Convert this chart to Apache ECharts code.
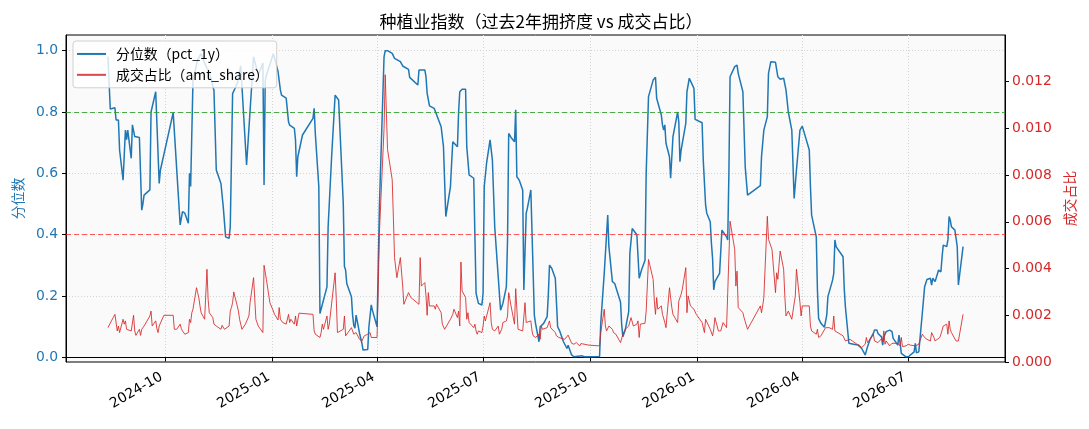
<!DOCTYPE html>
<html>
<head>
<meta charset="utf-8">
<script src="https://cdn.jsdelivr.net/npm/echarts@6/dist/echarts.min.js"></script>
<style>
html,body{margin:0;padding:0;background:#fff;}
#chart{width:1089px;height:429px;}
</style>
</head>
<body>
<div id="chart"></div>
<script>
// ---- data ----
const titleText = '种植业指数（过去2年拥挤度 vs 成交占比）';
const pctName = '分位数（pct_1y）';
const amtName = '成交占比（amt_share）';
const xMin = '2024-07-08';
const xMax = '2026-09-22';
const xTickDates = ['2024-10-01','2025-01-01','2025-04-01','2025-07-01','2025-10-01','2026-01-01','2026-04-01','2026-07-01'];
const leftTicks = [0, 0.2, 0.4, 0.6, 0.8, 1.0];
const rightTicks = [0, 0.002, 0.004, 0.006, 0.008, 0.010, 0.012];
const highLine = 0.8;
const lowLine = 0.4;

const pctDates = ['2024-08-13','2024-08-15','2024-08-19','2024-08-20','2024-08-22','2024-08-23','2024-08-26','2024-08-28','2024-08-29','2024-08-30',
'2024-09-02','2024-09-03','2024-09-05','2024-09-09','2024-09-11','2024-09-12','2024-09-13','2024-09-18','2024-09-19','2024-09-23','2024-09-26','2024-09-27',
'2024-10-08','2024-10-14','2024-10-16','2024-10-18','2024-10-21','2024-10-22','2024-10-23','2024-10-25','2024-10-29','2024-11-01','2024-11-05','2024-11-08',
'2024-11-12','2024-11-14','2024-11-18','2024-11-19','2024-11-20','2024-11-22','2024-11-25','2024-11-26','2024-11-28','2024-12-02','2024-12-05','2024-12-10',
'2024-12-16','2024-12-18','2024-12-20','2024-12-24','2024-12-25','2024-12-26','2024-12-27','2025-01-02','2025-01-03','2025-01-06','2025-01-08','2025-01-09',
'2025-01-13','2025-01-15','2025-01-16','2025-01-20','2025-01-21','2025-01-22','2025-01-23','2025-01-24','2025-01-27','2025-02-05','2025-02-06','2025-02-07',
'2025-02-10','2025-02-11','2025-02-12','2025-02-17','2025-02-18','2025-02-21','2025-02-24','2025-02-25','2025-02-27','2025-03-03','2025-03-04','2025-03-05',
'2025-03-06','2025-03-10','2025-03-11','2025-03-12','2025-03-13','2025-03-14','2025-03-17','2025-03-19','2025-03-20','2025-03-24','2025-03-25','2025-03-27',
'2025-03-28','2025-04-01','2025-04-03','2025-04-07','2025-04-08','2025-04-10','2025-04-14','2025-04-16','2025-04-21','2025-04-23','2025-04-28','2025-04-29',
'2025-05-06','2025-05-07','2025-05-12','2025-05-13','2025-05-14','2025-05-16','2025-05-20','2025-05-21','2025-05-26','2025-05-28','2025-05-30','2025-06-03',
'2025-06-04','2025-06-05','2025-06-09','2025-06-10','2025-06-11','2025-06-13','2025-06-16','2025-06-17','2025-06-19','2025-06-23','2025-06-24','2025-06-25',
'2025-06-27','2025-06-30','2025-07-01','2025-07-02','2025-07-04','2025-07-07','2025-07-09','2025-07-11','2025-07-14','2025-07-16','2025-07-18','2025-07-21',
'2025-07-22','2025-07-23','2025-07-25','2025-07-28','2025-07-29','2025-07-30','2025-08-01','2025-08-04','2025-08-05','2025-08-07','2025-08-08','2025-08-11',
'2025-08-12','2025-08-14','2025-08-15','2025-08-18','2025-08-19','2025-08-22','2025-08-25','2025-08-26','2025-08-27','2025-08-29','2025-09-01','2025-09-03',
'2025-09-05','2025-09-08','2025-09-11','2025-09-12','2025-09-15','2025-09-17','2025-09-24','2025-09-26','2025-09-30','2025-10-09','2025-10-10','2025-10-13',
'2025-10-16','2025-10-17','2025-10-20','2025-10-22','2025-10-27','2025-10-28','2025-10-29','2025-10-31','2025-11-03','2025-11-04','2025-11-06','2025-11-07',
'2025-11-10','2025-11-12','2025-11-14','2025-11-17','2025-11-18','2025-11-20','2025-11-24','2025-11-26','2025-11-27','2025-12-01','2025-12-02','2025-12-03',
'2025-12-04','2025-12-05','2025-12-08','2025-12-09','2025-12-11','2025-12-15','2025-12-16','2025-12-17','2025-12-18','2025-12-22','2025-12-23','2025-12-25',
'2025-12-29','2025-12-30','2026-01-05','2026-01-06','2026-01-08','2026-01-09','2026-01-12','2026-01-13','2026-01-14','2026-01-15','2026-01-16','2026-01-20',
'2026-01-22','2026-01-23','2026-01-26','2026-01-27','2026-01-28','2026-01-29','2026-02-02','2026-02-04','2026-02-05','2026-02-09','2026-02-11','2026-02-13',
'2026-02-24','2026-02-25','2026-02-27','2026-03-02','2026-03-03','2026-03-05','2026-03-09','2026-03-11','2026-03-13','2026-03-16','2026-03-17','2026-03-18',
'2026-03-20','2026-03-23','2026-03-25','2026-03-27','2026-03-30','2026-04-01','2026-04-02','2026-04-07','2026-04-08','2026-04-09','2026-04-13','2026-04-14',
'2026-04-15','2026-04-17','2026-04-20','2026-04-22','2026-04-23','2026-04-27','2026-04-28','2026-04-29','2026-04-30','2026-05-06','2026-05-07','2026-05-08',
'2026-05-11','2026-05-12','2026-05-15','2026-05-19','2026-05-22','2026-05-25','2026-05-27','2026-05-29','2026-06-01','2026-06-02','2026-06-04','2026-06-05',
'2026-06-08','2026-06-09','2026-06-10','2026-06-12','2026-06-15','2026-06-17','2026-06-18','2026-06-22','2026-06-23','2026-06-24','2026-06-25','2026-06-29',
'2026-07-01','2026-07-02','2026-07-06','2026-07-07','2026-07-08','2026-07-10','2026-07-13','2026-07-15','2026-07-17','2026-07-20','2026-07-21','2026-07-22',
'2026-07-23','2026-07-24','2026-07-27','2026-07-28','2026-07-29','2026-07-30','2026-07-31','2026-08-03','2026-08-04','2026-08-05','2026-08-06','2026-08-07',
'2026-08-10','2026-08-11','2026-08-12','2026-08-13','2026-08-17'];
const pctValues = [0.98,0.81,0.814,0.774,0.774,0.676,0.578,0.741,0.71,0.741,
0.649,0.758,0.72,0.717,0.48,0.50,0.529,0.546,0.80,0.866,0.567,0.61,
0.798,0.432,0.475,0.47,0.437,0.60,0.557,0.904,0.97,0.99,0.95,0.93,
0.87,0.611,0.567,0.573,0.49,0.393,0.388,0.426,0.86,0.893,0.95,0.627,
0.98,0.95,0.92,0.96,0.562,0.90,0.92,0.99,0.975,0.932,0.872,0.855,
0.845,0.768,0.757,0.747,0.709,0.589,0.654,0.654,0.725,0.779,0.812,0.73,
0.557,0.143,0.138,0.23,0.426,0.654,0.855,0.861,0.839,0.502,0.296,0.285,
0.241,0.198,0.138,0.105,0.095,0.138,0.078,0.046,0.024,0.026,0.10,0.171,
0.154,0.10,0.49,0.98,1.0,1.0,0.991,0.975,0.964,0.95,0.939,0.913,
0.888,0.937,0.937,0.915,0.861,0.82,0.812,0.807,0.752,0.687,0.459,0.557,
0.633,0.703,0.687,0.80,0.866,0.874,0.874,0.687,0.595,0.584,0.393,0.209,
0.176,0.171,0.209,0.557,0.633,0.709,0.643,0.426,0.263,0.154,0.176,0.23,
0.383,0.73,0.717,0.703,0.807,0.589,0.578,0.546,0.22,0.47,0.486,0.546,
0.546,0.138,0.111,0.051,0.10,0.111,0.133,0.203,0.301,0.29,0.258,0.10,
0.084,0.051,0.029,0.04,0.008,0.002,0.005,0.002,0.002,0.003,0.111,0.274,
0.464,0.361,0.247,0.241,0.18,0.105,0.067,0.089,0.149,0.339,0.42,0.415,
0.40,0.258,0.285,0.317,0.60,0.85,0.904,0.913,0.845,0.79,0.758,0.741,
0.758,0.698,0.654,0.584,0.72,0.80,0.768,0.638,0.676,0.763,0.866,0.91,
0.877,0.776,0.765,0.643,0.497,0.47,0.442,0.372,0.323,0.22,0.247,0.274,
0.415,0.41,0.393,0.383,0.60,0.915,0.948,0.953,0.926,0.866,0.622,0.529,
0.56,0.654,0.741,0.785,0.926,0.964,0.962,0.915,0.907,0.91,0.904,0.872,
0.80,0.741,0.518,0.611,0.741,0.754,0.754,0.676,0.557,0.464,0.393,0.22,
0.127,0.111,0.098,0.138,0.198,0.252,0.274,0.383,0.361,0.328,0.225,0.165,
0.046,0.043,0.043,0.04,0.029,0.008,0.035,0.057,0.078,0.089,0.089,0.078,
0.067,0.04,0.067,0.084,0.089,0.084,0.062,0.04,0.073,0.046,0.013,0.002,
0.002,0.008,0.018,0.046,0.015,0.018,0.143,0.23,0.254,0.258,0.236,0.258,
0.258,0.247,0.285,0.29,0.279,0.328,0.366,0.361,0.383,0.459,0.448,0.426,
0.415,0.42,0.361,0.236,0.361];

const amtDates = ['2024-08-13','2024-08-16','2024-08-19','2024-08-20','2024-08-21','2024-08-22','2024-08-23','2024-08-26','2024-08-27','2024-08-28',
'2024-08-29','2024-08-30','2024-09-02','2024-09-03','2024-09-04','2024-09-05','2024-09-06','2024-09-09','2024-09-10','2024-09-11','2024-09-13','2024-09-18',
'2024-09-19','2024-09-20','2024-09-23','2024-09-24','2024-09-25','2024-09-26','2024-09-30','2024-10-08','2024-10-09','2024-10-10','2024-10-11','2024-10-14',
'2024-10-15','2024-10-16','2024-10-18','2024-10-21','2024-10-22','2024-10-23','2024-10-24','2024-10-25','2024-10-28','2024-10-29','2024-10-30','2024-10-31',
'2024-11-01','2024-11-04','2024-11-06','2024-11-07','2024-11-08','2024-11-11','2024-11-12','2024-11-14','2024-11-15','2024-11-18','2024-11-19','2024-11-21',
'2024-11-22','2024-11-25','2024-11-26','2024-11-27','2024-11-28','2024-11-29','2024-12-02','2024-12-03','2024-12-04','2024-12-05','2024-12-06','2024-12-09',
'2024-12-12','2024-12-13','2024-12-16','2024-12-18','2024-12-19','2024-12-20','2024-12-24','2024-12-25','2024-12-27','2024-12-30','2025-01-02','2025-01-03',
'2025-01-06','2025-01-07','2025-01-08','2025-01-10','2025-01-13','2025-01-15','2025-01-16','2025-01-17','2025-01-20','2025-01-21','2025-01-22','2025-01-24',
'2025-02-05','2025-02-06','2025-02-07','2025-02-11','2025-02-12','2025-02-13','2025-02-14','2025-02-17','2025-02-18','2025-02-19','2025-02-20','2025-02-24',
'2025-02-25','2025-02-26','2025-02-27','2025-03-03','2025-03-04','2025-03-05','2025-03-07','2025-03-10','2025-03-12','2025-03-13','2025-03-14','2025-03-17',
'2025-03-19','2025-03-21','2025-03-24','2025-03-26','2025-03-27','2025-04-01','2025-04-02','2025-04-03','2025-04-07','2025-04-08','2025-04-10','2025-04-14',
'2025-04-15','2025-04-16','2025-04-17','2025-04-18','2025-04-21','2025-04-23','2025-04-24','2025-04-28','2025-04-30','2025-05-07','2025-05-08','2025-05-09',
'2025-05-12','2025-05-13','2025-05-14','2025-05-15','2025-05-16','2025-05-20','2025-05-21','2025-05-22','2025-05-26','2025-05-27','2025-05-28','2025-05-29',
'2025-06-03','2025-06-05','2025-06-06','2025-06-09','2025-06-10','2025-06-11','2025-06-12','2025-06-13','2025-06-16','2025-06-17','2025-06-18','2025-06-19',
'2025-06-20','2025-06-23','2025-06-24','2025-06-25','2025-06-26','2025-06-27','2025-06-30','2025-07-01','2025-07-02','2025-07-03','2025-07-07','2025-07-08',
'2025-07-09','2025-07-11','2025-07-14','2025-07-15','2025-07-17','2025-07-18','2025-07-21','2025-07-22','2025-07-23','2025-07-25','2025-07-28','2025-07-29',
'2025-07-31','2025-08-04','2025-08-05','2025-08-06','2025-08-07','2025-08-08','2025-08-11','2025-08-12','2025-08-13','2025-08-15','2025-08-18','2025-08-19',
'2025-08-20','2025-08-21','2025-08-25','2025-08-26','2025-08-27','2025-08-28','2025-09-01','2025-09-02','2025-09-04','2025-09-05','2025-09-09','2025-09-12',
'2025-09-15','2025-09-17','2025-09-19','2025-09-22','2025-09-23','2025-09-30','2025-10-09','2025-10-10','2025-10-13','2025-10-14','2025-10-15','2025-10-17',
'2025-10-20','2025-10-21','2025-10-23','2025-10-27','2025-10-29','2025-10-31','2025-11-03','2025-11-05','2025-11-07','2025-11-10','2025-11-11','2025-11-12',
'2025-11-13','2025-11-17','2025-11-18','2025-11-19','2025-11-20','2025-11-24','2025-11-25','2025-11-26','2025-11-27','2025-11-28','2025-12-01','2025-12-02',
'2025-12-04','2025-12-05','2025-12-08','2025-12-10','2025-12-11','2025-12-12','2025-12-15','2025-12-16','2025-12-18','2025-12-19','2025-12-22','2025-12-23',
'2025-12-24','2025-12-26','2025-12-29','2025-12-31','2026-01-05','2026-01-07','2026-01-08','2026-01-12','2026-01-14','2026-01-15','2026-01-16','2026-01-19',
'2026-01-21','2026-01-23','2026-01-26','2026-01-27','2026-01-29','2026-02-02','2026-02-03','2026-02-04','2026-02-05','2026-02-09','2026-02-10','2026-02-13',
'2026-02-24','2026-02-25','2026-02-26','2026-02-27','2026-03-02','2026-03-03','2026-03-06','2026-03-09','2026-03-10','2026-03-11','2026-03-13','2026-03-16',
'2026-03-17','2026-03-18','2026-03-20','2026-03-23','2026-03-24','2026-03-26','2026-03-27','2026-03-30','2026-03-31','2026-04-01','2026-04-07','2026-04-08',
'2026-04-09','2026-04-10','2026-04-13','2026-04-14','2026-04-15','2026-04-17','2026-04-21','2026-04-24','2026-04-27','2026-04-28','2026-04-29','2026-05-06',
'2026-05-08','2026-05-12','2026-05-14','2026-05-18','2026-05-20','2026-05-22','2026-05-25','2026-05-26','2026-05-27','2026-05-29','2026-06-01','2026-06-02',
'2026-06-03','2026-06-05','2026-06-08','2026-06-09','2026-06-10','2026-06-11','2026-06-12','2026-06-15','2026-06-17','2026-06-18','2026-06-22','2026-06-24',
'2026-06-25','2026-06-26','2026-06-29','2026-07-01','2026-07-03','2026-07-07','2026-07-08','2026-07-10','2026-07-13','2026-07-15','2026-07-17','2026-07-20',
'2026-07-21','2026-07-23','2026-07-24','2026-07-28','2026-07-29','2026-07-31','2026-08-03','2026-08-04','2026-08-05','2026-08-06','2026-08-07','2026-08-11',
'2026-08-13','2026-08-17'];
const amtValues = [0.00147,0.00176,0.00204,0.00197,0.00133,0.00154,0.00126,0.00183,0.00162,0.00176,
0.0014,0.00147,0.00133,0.00126,0.0020,0.00133,0.00114,0.0014,0.00114,0.0014,0.00154,0.00197,
0.00218,0.00154,0.00176,0.00143,0.00126,0.00154,0.0020,0.0020,0.0014,0.00133,0.0014,0.00162,
0.00143,0.00133,0.00119,0.00126,0.00183,0.00169,0.00211,0.00226,0.00318,0.00297,0.00276,0.0024,
0.00211,0.00183,0.00397,0.00268,0.00211,0.0019,0.00162,0.00154,0.00152,0.0014,0.00157,0.0014,
0.00133,0.00154,0.00218,0.00233,0.00254,0.0030,0.0024,0.00218,0.00183,0.00176,0.0014,0.00162,
0.00197,0.00254,0.00361,0.00183,0.00176,0.00154,0.00126,0.00414,0.00354,0.00254,0.00218,0.00204,
0.0018,0.00233,0.00183,0.00169,0.00162,0.00204,0.00169,0.00183,0.00162,0.00197,0.00154,0.00209,
0.00204,0.00133,0.00119,0.00105,0.00126,0.00162,0.0014,0.00197,0.0014,0.00162,0.00154,0.00382,
0.00268,0.00126,0.00119,0.0014,0.00197,0.00112,0.00126,0.00147,0.00119,0.00112,0.00126,0.00097,
0.0009,0.00112,0.00119,0.00126,0.00105,0.00105,0.0032,0.0055,0.0100,0.0123,0.0091,0.0078,
0.0062,0.00447,0.00454,0.00361,0.00447,0.00325,0.00247,0.00297,0.00276,0.00247,0.00447,0.00325,
0.0034,0.00283,0.0020,0.00297,0.0024,0.0024,0.00226,0.00247,0.00211,0.00162,0.00162,0.0014,
0.00183,0.00204,0.00226,0.0019,0.00218,0.00154,0.00428,0.00304,0.00276,0.00183,0.00211,0.00169,
0.00176,0.00147,0.00162,0.00133,0.00119,0.00133,0.00126,0.00154,0.00197,0.00176,0.00254,0.00169,
0.0014,0.00133,0.00154,0.00119,0.0014,0.00169,0.00176,0.00197,0.00297,0.0024,0.00162,0.00314,
0.0014,0.00133,0.0014,0.00254,0.00169,0.00169,0.00176,0.00133,0.00112,0.00105,0.00119,0.00097,
0.00154,0.0014,0.00147,0.00154,0.00176,0.00147,0.00126,0.00112,0.00105,0.00112,0.00097,0.00115,
0.0008,0.00076,0.00083,0.00069,0.00079,0.00072,0.00069,0.00126,0.00226,0.00154,0.00133,0.00154,
0.0014,0.00126,0.00119,0.00083,0.00119,0.0014,0.00154,0.0019,0.00154,0.00162,0.00176,0.00105,
0.00162,0.00166,0.00218,0.00218,0.00439,0.00354,0.00261,0.00204,0.00276,0.00226,0.0024,0.00204,
0.00169,0.00147,0.00318,0.00233,0.00204,0.00211,0.00169,0.00261,0.0029,0.00311,0.00404,0.00211,
0.00283,0.0024,0.00226,0.00204,0.00169,0.00126,0.00183,0.0014,0.00112,0.0014,0.0019,0.00133,
0.00133,0.00169,0.00147,0.00297,0.00603,0.00482,0.00325,0.00389,0.00233,0.00211,0.0019,0.0014,
0.0024,0.00211,0.0024,0.00276,0.00624,0.00525,0.00482,0.00297,0.00382,0.00354,0.00475,0.00397,
0.00283,0.00197,0.00218,0.00183,0.00183,0.00283,0.00397,0.00254,0.00197,0.0024,0.0024,0.00154,
0.00133,0.0014,0.00119,0.0014,0.00105,0.00112,0.00147,0.00147,0.0014,0.00197,0.00133,0.00112,
0.0009,0.00097,0.0009,0.00076,0.00072,0.00062,0.00076,0.00105,0.00083,0.00097,0.00119,0.0009,
0.00097,0.00083,0.0010,0.0009,0.00133,0.00076,0.0009,0.00069,0.0008,0.00083,0.0008,0.00069,
0.00105,0.00066,0.00069,0.00076,0.00072,0.00069,0.00062,0.00076,0.00119,0.00105,0.00097,0.0009,
0.00126,0.00105,0.0009,0.00105,0.00119,0.00154,0.00162,0.00119,0.00176,0.0014,0.00126,0.0009,
0.0009,0.00204];

// ---- chart ----
const numFont = 'DejaVu Sans, Noto Sans CJK SC, sans-serif';
const cjkFont = 'Noto Sans CJK SC, DejaVu Sans, sans-serif';
const blue = '#1f77b4';
const red = '#d62728';

function toTime(s) {
  const p = s.split('-').map(Number);
  return Date.UTC(p[0], p[1] - 1, p[2]);
}
function zip(ds, vs) { return ds.map((d, i) => [toTime(d), vs[i]]); }
function fmtMonth(v) {
  const d = new Date(v);
  return d.getUTCFullYear() + '-' + String(d.getUTCMonth() + 1).padStart(2, '0');
}
const xTicks = xTickDates.map(toTime);

const chart = echarts.init(document.getElementById('chart'), null, {renderer: 'canvas'});
chart.setOption({
  animation: false,
  backgroundColor: '#ffffff',
  title: {
    text: titleText,
    left: 536,
    top: 8,
    textAlign: 'center',
    textStyle: {fontFamily: cjkFont, fontSize: 17, fontWeight: 'normal', color: '#000'}
  },
  legend: {
    orient: 'vertical',
    left: 73,
    top: 41,
    padding: [6, 8, 6, 4],
    itemGap: 7,
    itemWidth: 29,
    itemHeight: 2,
    backgroundColor: 'rgba(255,255,255,0.8)',
    borderColor: '#d0d0d0',
    borderWidth: 1,
    borderRadius: 3,
    textStyle: {fontFamily: cjkFont, fontSize: 13.9, color: '#000', padding: [0, 0, 0, 5]},
    data: [
      {name: pctName, icon: 'rect', itemStyle: {color: blue}},
      {name: amtName, icon: 'rect', itemStyle: {color: red, opacity: 0.85}}
    ]
  },
  grid: {
    left: 66, right: 84, top: 35, bottom: 67,
    show: true,
    backgroundColor: '#fafafa',
    borderColor: '#000',
    borderWidth: 1
  },
  xAxis: {
    type: 'value',
    min: toTime(xMin),
    max: toTime(xMax),
    axisLine: {show: true, lineStyle: {color: '#000', width: 1}},
    axisTick: {show: true, customValues: xTicks, length: 4, lineStyle: {color: '#000'}},
    axisLabel: {
      customValues: xTicks,
      formatter: fmtMonth,
      rotate: 30,
      margin: 20,
      align: 'right',
      verticalAlign: 'bottom',
      fontFamily: numFont,
      fontSize: 13.9,
      color: '#000'
    },
    splitLine: {show: true, lineStyle: {color: '#d4d4d4', type: [1, 2], width: 1}}
  },
  yAxis: [
    {
      type: 'value',
      position: 'left',
      min: -0.015,
      max: 1.051,
      name: '分位数',
      nameLocation: 'middle',
      nameGap: 41,
      nameTextStyle: {fontFamily: cjkFont, fontSize: 13.9, color: blue},
      axisLine: {show: true, lineStyle: {color: '#000'}},
      axisTick: {show: true, customValues: leftTicks, length: 4, lineStyle: {color: '#000'}},
      axisLabel: {customValues: leftTicks, formatter: v => v.toFixed(1), fontFamily: numFont, fontSize: 13.9, color: blue, margin: 8},
      splitLine: {show: true, lineStyle: {color: '#d4d4d4', type: [1, 2], width: 1}}
    },
    {
      type: 'value',
      position: 'right',
      min: 0,
      max: 0.014,
      name: '成交占比',
      nameLocation: 'middle',
      nameGap: 55,
      nameTextStyle: {fontFamily: cjkFont, fontSize: 13.9, color: red},
      axisLine: {show: true, lineStyle: {color: '#000'}},
      axisTick: {show: true, customValues: rightTicks, length: 4, lineStyle: {color: '#000'}},
      axisLabel: {customValues: rightTicks, formatter: v => v.toFixed(3), fontFamily: numFont, fontSize: 13.9, color: red, margin: 7},
      splitLine: {show: false}
    }
  ],
  series: [
    {
      name: pctName,
      type: 'line',
      yAxisIndex: 0,
      data: zip(pctDates, pctValues),
      showSymbol: false,
      symbol: 'none',
      lineStyle: {color: blue, width: 1.5},
      itemStyle: {color: blue},
      markLine: {
        silent: true,
        symbol: ['none', 'none'],
        label: {show: false},
        data: [
          {yAxis: highLine, lineStyle: {color: 'rgba(44,160,44,0.85)', type: [5, 3], width: 1}},
          {yAxis: lowLine, lineStyle: {color: 'rgba(255,40,40,0.75)', type: [5, 3], width: 1}}
        ]
      }
    },
    {
      name: amtName,
      type: 'line',
      yAxisIndex: 1,
      data: zip(amtDates, amtValues),
      showSymbol: false,
      symbol: 'none',
      lineStyle: {color: red, width: 1, opacity: 0.85},
      itemStyle: {color: red}
    }
  ]
});
</script>
</body>
</html>
